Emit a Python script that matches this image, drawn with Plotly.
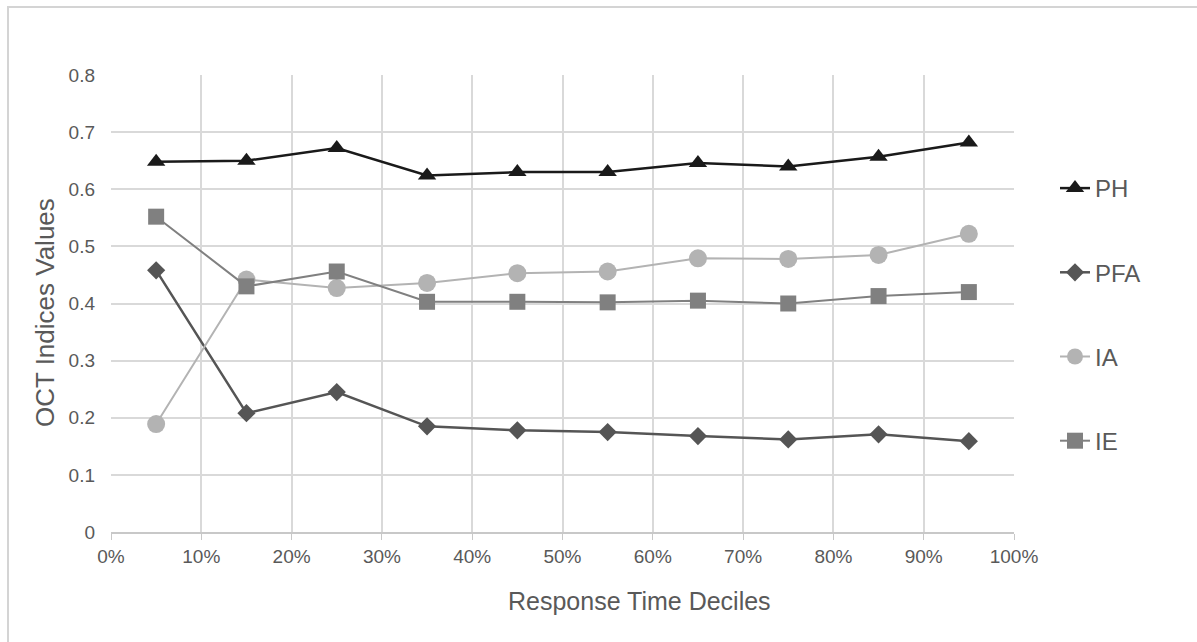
import plotly.graph_objects as go

# Response-time deciles (midpoints) and OCT index values per decile
deciles = [0.05, 0.15, 0.25, 0.35, 0.45, 0.55, 0.65, 0.75, 0.85, 0.95]
ph = [0.648, 0.650, 0.672, 0.624, 0.630, 0.630, 0.646, 0.640, 0.657, 0.682]
pfa = [0.458, 0.208, 0.245, 0.185, 0.178, 0.175, 0.168, 0.162, 0.171, 0.159]
ia = [0.189, 0.442, 0.427, 0.436, 0.453, 0.456, 0.479, 0.478, 0.485, 0.522]
ie = [0.552, 0.430, 0.456, 0.403, 0.403, 0.402, 0.405, 0.400, 0.413, 0.420]

x_ticks = [i / 10 for i in range(11)]
y_ticks = [i / 10 for i in range(9)]
y_tick_text = ["0"] + [f"{v:.1f}" for v in y_ticks[1:]]

x_title = "Response Time Deciles"
y_title = "OCT Indices Values"

FONT = "Liberation Sans, Arial, sans-serif"
TEXT_GREY = "#595959"
GRID = "#d9d9d9"

W, H = 1197, 642
L, R, T, B = 111, 183, 75, 110

series = [
    ("PH", ph, "#1a1a1a", "triangle-up", 16, 2.5),
    ("PFA", pfa, "#555555", "diamond", 14, 2.5),
    ("IA", ia, "#b3b3b3", "circle", 18, 2),
    ("IE", ie, "#808080", "square", 16, 2),
]

fig = go.Figure()
for name, vals, color, symbol, msize, lw in series:
    fig.add_trace(go.Scatter(
        x=deciles, y=vals, name=name, mode="lines+markers",
        legendgroup=name,
        line=dict(color=color, width=lw),
        marker=dict(symbol=symbol, size=msize, color=color,
                    line=dict(width=0)),
    ))

plot_w = W - L - R
plot_h = H - T - B


def px_to_paper_x(px):
    return (px - L) / plot_w


def px_to_paper_y(py):
    return (H - B - py) / plot_h


# outer frame around the chart area
fig.add_shape(type="rect", xref="paper", yref="paper",
              x0=px_to_paper_x(8), y0=px_to_paper_y(H + 20),
              x1=px_to_paper_x(W + 20), y1=px_to_paper_y(7),
              line=dict(color="#d4d4d4", width=2), fillcolor="rgba(0,0,0,0)",
              layer="below")

# axis titles
fig.add_annotation(text=x_title, xref="paper", yref="paper",
                   x=px_to_paper_x(639), y=px_to_paper_y(601),
                   xanchor="center", yanchor="middle", showarrow=False,
                   font=dict(size=25, color=TEXT_GREY, family=FONT))
fig.add_annotation(text=y_title, xref="paper", yref="paper",
                   x=px_to_paper_x(45), y=px_to_paper_y(313),
                   xanchor="center", yanchor="middle", showarrow=False,
                   textangle=-90,
                   font=dict(size=26, color=TEXT_GREY, family=FONT))

fig.update_layout(
    width=W, height=H,
    margin=dict(l=L, r=R, t=T, b=B),
    paper_bgcolor="white", plot_bgcolor="white",
    font=dict(family=FONT, color=TEXT_GREY),
    showlegend=True,
    legend=dict(x=px_to_paper_x(1055), xanchor="left",
                y=px_to_paper_y(166), yanchor="top",
                font=dict(size=24, color=TEXT_GREY, family=FONT),
                tracegroupgap=50, traceorder="grouped",
                bgcolor="rgba(0,0,0,0)"),
    xaxis=dict(range=[0, 1], tickvals=x_ticks, tickformat=".0%",
               showgrid=True, gridcolor=GRID, gridwidth=1.5,
               showline=True, linecolor="#c8c8c8", linewidth=2,
               ticks="outside", ticklen=6, tickcolor="#c8c8c8",
               tickfont=dict(size=19, color=TEXT_GREY),
               zeroline=False),
    yaxis=dict(range=[0, 0.8], tickvals=y_ticks, ticktext=y_tick_text,
               showgrid=True, gridcolor=GRID, gridwidth=1.5,
               showline=False, zeroline=False,
               tickfont=dict(size=19, color=TEXT_GREY),
               ticklabelstandoff=15),
)

fig.write_html("out.html")
